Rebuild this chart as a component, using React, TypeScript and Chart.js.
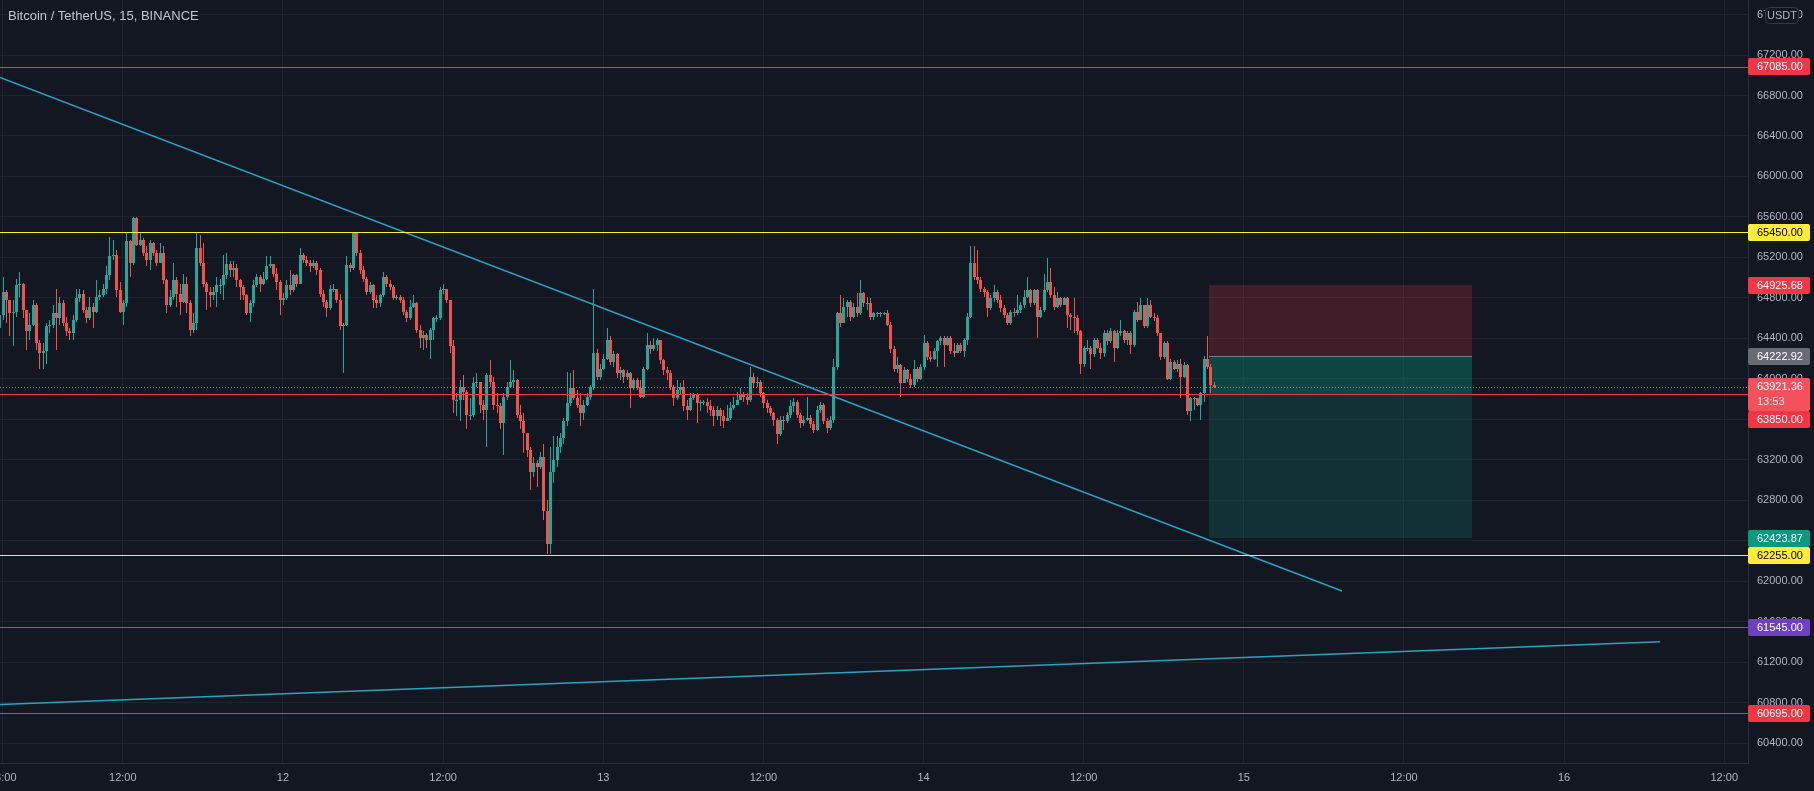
import React, { useEffect, useRef } from "react";
import { Chart, registerables } from "chart.js";

Chart.register(...registerables);

// ---------- data ----------
const FIRST_OPEN = 64960;
const BAR_START_HOUR = 2.5; // hours after 11 00:00
const BAR_HOURS = 0.25;

const closes = [
  64500,64630,64860,64780,64650,64660,64930,64940,64680,64470,
  64530,64730,64350,64250,64270,64520,64530,64650,64600,64750,
  64550,64470,64450,64580,64800,64840,64680,64600,64710,64660,
  64810,64830,64890,65030,65210,65220,64880,64660,64750,65360,
  65140,65590,65320,65370,65240,65170,65340,65240,65140,65240,
  64980,64730,64810,64980,64840,64760,64940,64750,64480,64550,
  65290,65140,64940,64860,64830,64860,64930,64930,65030,65130,
  65080,65090,64980,64910,64830,64650,64750,64930,65010,64940,
  64990,65110,65130,65040,64960,64780,64800,64930,64880,65030,
  64940,65220,
  65170,65140,65110,65140,65080,64840,64760,64700,64890,64890,
  64780,64520,64530,65120,65090,65440,65240,65080,64990,64860,
  64930,64780,64750,64830,65010,64940,64910,64800,64810,64780,
  64660,64600,64710,64750,64480,64400,64430,64380,64480,64600,
  64600,64880,64890,64780,64320,63790,63790,63920,63870,63640,
  63640,63960,63970,63740,63690,64040,63970,63740,63730,63560,
  63820,63920,63970,63990,63640,63580,63460,63300,63080,63170,
  63130,63230,62690,62370,63080,63200,63330,63410,63580,63760,
  63910,63810,63740,63660,63740,63820,63920,64250,
  64020,64100,64200,64380,64170,64240,64060,64090,64020,64060,
  63910,63990,63910,63820,64100,64330,64290,64330,64380,64190,
  64090,64060,63920,63810,63890,63920,63730,63690,63810,63840,
  63760,63770,63770,63730,63690,63630,63690,63630,63580,63610,
  63710,63740,63790,63840,63820,63790,64020,63960,63970,63860,
  63760,63710,63660,63590,63450,63590,63580,63640,63730,63770,
  63640,63560,63590,63610,63550,63490,63690,63740,63580,63510,
  63590,64120,64650,64550,64710,64760,64610,64710,64650,64850,
  64750,64750,64610,64650,64650,64650,64650,64530,64290,64100,
  64140,63960,64090,
  64000,63940,64100,64000,64120,64350,64220,64200,64270,64370,
  64400,64330,64400,64270,64250,64330,64270,64380,64610,65140,
  65010,64980,64890,64860,64700,64800,64860,64780,64700,64630,
  64550,64660,64650,64680,64730,64810,64880,64750,64880,64610,
  64680,64880,64960,64830,64710,64800,64730,64800,64630,64610,
  64600,64470,64150,64300,64300,64240,64380,64300,64250,64450,
  64370,64470,64300,64450,64470,64380,64450,64330,64660,64580,
  64730,64520,64730,64610,64600,64450,64220,64350,64000,64170,
  64100,64150,64020,64140,63680,63810,63810,63740,63860,64200,
  64120,63940,63921.36,
];

const highs = [
  65060,64680,65010,64880,64780,64780,64990,65060,64950,64680,
  64650,64780,64750,64380,64350,64550,64580,64730,64890,64810,
  64780,64610,64500,64630,64890,64890,64880,64710,64810,64750,
  64980,64880,64940,65110,65400,65370,65270,64960,64780,65440,
  65370,65600,65600,65450,65390,65310,65370,65350,65270,65340,
  65310,64990,64880,65140,65010,64940,65040,65010,64780,64650,
  65450,65420,65340,64960,64910,64910,65010,64990,65220,65240,
  65160,65160,65130,64990,64930,64840,64780,64980,65040,65030,
  65060,65210,65210,65130,65090,64980,64850,64980,65080,65040,
  65040,65290,
  65240,65210,65170,65170,65160,65090,64880,64780,64930,64940,
  64890,64840,64550,65210,65140,65450,65440,65270,65110,65010,
  64960,64940,64830,64840,65060,65030,64980,64930,64830,64830,
  64810,64680,64780,64830,64760,64530,64470,64450,64500,64610,
  64630,64910,64940,64890,64780,64380,63860,63990,64040,63890,
  63810,64020,64060,63970,63790,64060,64190,64020,63860,63760,
  63860,63970,64190,64090,64000,63740,63660,63460,63330,63230,
  63200,63280,63360,62800,63330,63430,63430,63460,63610,64070,
  64060,64090,63890,63860,63790,63860,63940,64890,
  64290,64150,64240,64500,64420,64270,64250,64120,64100,64090,
  64070,64010,64010,63990,64120,64450,64370,64400,64400,64380,
  64200,64120,64090,63940,63990,63960,63990,63790,63860,63860,
  63860,63790,63790,63810,63790,63730,63730,63710,63690,63740,
  63770,63820,63870,63910,63870,63860,64120,64060,64020,63990,
  63870,63790,63730,63670,63610,63630,63630,63670,63790,63810,
  63790,63660,63630,63820,63640,63580,63730,63770,63760,63610,
  63630,64200,64660,64830,64800,64780,64780,64750,64850,64980,
  64860,64810,64800,64660,64660,64660,64660,64680,64560,64320,
  64220,64150,64120,
  64100,64050,64190,64120,64150,64430,64370,64270,64300,64380,
  64420,64420,64420,64420,64350,64350,64350,64400,64650,65310,
  65310,65270,65010,64910,64880,64830,64930,64880,64830,64730,
  64650,64680,64700,64830,64760,64880,65010,64890,64890,64890,
  64710,65040,65190,65090,64910,64860,64810,64810,64810,64650,
  64800,64630,64480,64320,64380,64320,64400,64400,64350,64480,
  64480,64500,64480,64480,64580,64480,64470,64470,64680,64760,
  64800,64730,64800,64780,64650,64630,64450,64370,64370,64200,
  64190,64190,64200,64170,64150,63820,63820,63810,63870,64230,
  64420,64150,63970,
];

const lows = [
  64450,64380,64580,64550,64420,64320,64610,64810,64600,64280,
  64380,64520,64280,64100,64100,64150,64450,64500,64280,64530,
  64520,64420,64380,64380,64560,64760,64650,64550,64580,64500,
  64650,64780,64810,64840,64980,65170,64810,64650,64530,64710,
  65010,65120,65310,65310,65210,65110,65080,65210,65110,65140,
  64940,64650,64710,64780,64710,64630,64750,64650,64420,64450,
  64480,65110,64910,64680,64710,64780,64710,64840,64780,64990,
  65010,65010,64910,64780,64780,64630,64560,64710,64910,64860,
  64930,64980,65090,65010,64880,64630,64730,64780,64830,64860,
  64910,64940,
  65140,65110,65060,65090,65030,64810,64710,64610,64680,64860,
  64750,64480,64060,64520,65060,65080,65210,65040,64960,64830,
  64840,64700,64700,64710,64810,64910,64880,64780,64780,64750,
  64630,64560,64580,64700,64450,64300,64280,64300,64200,64380,
  64560,64580,64840,64750,64250,63660,63630,63580,63790,63500,
  63590,63620,63920,63660,63590,63330,63920,63690,63660,63500,
  63250,63790,63920,63920,63610,63500,63270,63230,62900,63030,
  62930,63110,62600,62270,62270,62970,63130,63270,63360,63530,
  63730,63790,63710,63530,63590,63730,63790,63890,
  63990,63990,64090,64190,64140,64120,64010,63990,63960,63990,
  63710,63890,63890,63810,63810,64090,64240,64270,64270,64150,
  64040,63990,63890,63730,63790,63840,63680,63590,63680,63790,
  63560,63680,63740,63660,63630,63530,63590,63530,63510,63580,
  63590,63690,63740,63790,63770,63740,63770,63920,63920,63820,
  63710,63660,63630,63530,63360,63430,63490,63560,63610,63670,
  63610,63510,63530,63580,63510,63460,63480,63660,63550,63460,
  63490,63560,64090,64510,64570,64610,64570,64600,64610,64630,
  64710,64680,64580,64580,64610,64610,64630,64520,64250,64070,
  64060,63820,63960,
  63970,63910,63920,63970,63990,64090,64190,64170,64190,64120,
  64330,64120,64320,64240,64220,64250,64250,64220,64330,64600,
  64980,64940,64860,64810,64610,64680,64760,64750,64660,64600,
  64530,64530,64610,64630,64650,64700,64800,64710,64730,64400,
  64600,64660,64860,64800,64680,64700,64710,64730,64500,64480,
  64450,64430,64050,64120,64270,64100,64220,64290,64200,64220,
  64330,64350,64170,64290,64420,64350,64330,64240,64310,64560,
  64580,64500,64500,64600,64570,64420,64190,64200,63990,63990,
  64090,64070,63810,64010,63640,63580,63690,63730,63590,63770,
  64100,63860,63910,
];

const xTickHours = [3, 12, 24, 36, 48, 60, 72, 84, 96, 108, 120, 132];
const xTickLabels = ["03:00", "12:00", "12", "12:00", "13", "12:00", "14", "12:00", "15", "12:00", "16", "12:00"];
const yTickPrices = [60400, 60800, 61200, 61600, 62000, 62400, 62800, 63200, 63600, 64000, 64400, 64800, 65200, 65600, 66000, 66400, 66800, 67200, 67600];

const X_MIN_HOUR = 2.795;
const X_MAX_HOUR = 133.78;
const Y_MIN_PRICE = 60202.6;
const Y_MAX_PRICE = 67743.6;

const levelPrices = [67085, 65450, 63850, 62255, 61545, 60695];
const levelKinds = ["red", "yellow", "red", "yellow", "purple", "red"];

const trendDownHours = [2.795, 103.36];
const trendDownPrices = [66978, 61903];
const trendUpHours = [2.795, 127.2];
const trendUpPrices = [60780, 61400];

const positionHours = [93.39, 113.1];
const stopPrice = 64925.68;
const entryPrice = 64222.92;
const targetPrice = 62423.87;
const highlightLowPrice = 63850;
const currentPrice = 63921.36;
const countdownText = "13:53";
const titleText = "Bitcoin / TetherUS, 15, BINANCE";
const currencyText = "USDT";

// ---------- styles ----------
const BG = "#131722";
const GRID = "#1f232e";
const AXIS_LINE = "#2a2e39";
const TEXT = "#b2b5be";
const UP = "#26a69a";
const DOWN = "#ef5350";
const TREND = "#2aa3c3";
const FONT = "'Liberation Sans', Arial, sans-serif";
const kindLine: Record<string, string> = { red: "#f23645", yellow: "#ffeb3b", purple: "#7e57c2" };
const kindBg: Record<string, string> = { red: "#f23645", yellow: "#ffeb3b", purple: "#6c3fc4" };
const kindFg: Record<string, string> = { red: "#ffffff", yellow: "#000000", purple: "#ffffff" };

function roundRect(ctx: CanvasRenderingContext2D, x: number, y: number, w: number, h: number, r: number) {
  ctx.beginPath();
  ctx.moveTo(x + r, y);
  ctx.lineTo(x + w - r, y);
  ctx.quadraticCurveTo(x + w, y, x + w, y + r);
  ctx.lineTo(x + w, y + h - r);
  ctx.quadraticCurveTo(x + w, y + h, x + w - r, y + h);
  ctx.lineTo(x + r, y + h);
  ctx.quadraticCurveTo(x, y + h, x, y + h - r);
  ctx.lineTo(x, y + r);
  ctx.quadraticCurveTo(x, y, x + r, y);
  ctx.closePath();
}

const tvPlugin = {
  id: "tvPlugin",
  beforeDraw(chart: any) {
    const ctx = chart.ctx as CanvasRenderingContext2D;
    ctx.save();
    ctx.fillStyle = BG;
    ctx.fillRect(0, 0, chart.width, chart.height);
    ctx.restore();
  },
  beforeDatasetsDraw(chart: any) {
    const ctx = chart.ctx as CanvasRenderingContext2D;
    const xs = chart.scales.x;
    const ys = chart.scales.y;
    const a = chart.chartArea;
    ctx.save();
    ctx.beginPath();
    ctx.rect(a.left, a.top, a.right - a.left, a.bottom - a.top);
    ctx.clip();

    // position tool
    const bx0 = Math.round(xs.getPixelForValue(positionHours[0]));
    const bx1 = Math.round(xs.getPixelForValue(positionHours[1]));
    const yStop = Math.round(ys.getPixelForValue(stopPrice));
    const yEntry = Math.round(ys.getPixelForValue(entryPrice));
    const yTarget = Math.round(ys.getPixelForValue(targetPrice));
    const yHi = Math.round(ys.getPixelForValue(highlightLowPrice));
    ctx.fillStyle = "rgba(242,54,69,0.2)";
    ctx.fillRect(bx0, yStop, bx1 - bx0, yEntry - yStop);
    ctx.fillStyle = "rgba(8,153,129,0.2)";
    ctx.fillRect(bx0, yEntry, bx1 - bx0, yTarget - yEntry);
    ctx.fillStyle = "rgba(8,153,129,0.2)";
    ctx.fillRect(bx0, yEntry, bx1 - bx0, yHi - yEntry);
    ctx.fillStyle = "#787b86";
    ctx.fillRect(bx0, yEntry, bx1 - bx0, 1);

    // candles
    let open = FIRST_OPEN;
    for (let i = 0; i < closes.length; i++) {
      const t = BAR_START_HOUR + BAR_HOURS * i;
      const x = Math.round(xs.getPixelForValue(t));
      const c = closes[i];
      const yO = ys.getPixelForValue(open);
      const yC = ys.getPixelForValue(c);
      const yH = Math.round(ys.getPixelForValue(highs[i]));
      const yL = Math.round(ys.getPixelForValue(lows[i]));
      const col = c >= open ? UP : DOWN;
      ctx.fillStyle = col;
      ctx.fillRect(x, yH, 1, Math.max(1, yL - yH));
      const top = Math.round(Math.min(yO, yC));
      const bot = Math.round(Math.max(yO, yC));
      ctx.fillRect(x - 1, top, 3, Math.max(1, bot - top));
      open = c;
    }
    ctx.restore();
  },
  afterDatasetsDraw(chart: any) {
    const ctx = chart.ctx as CanvasRenderingContext2D;
    const ys = chart.scales.y;
    const a = chart.chartArea;
    ctx.save();
    ctx.beginPath();
    ctx.rect(a.left, a.top, a.right - a.left, a.bottom - a.top);
    ctx.clip();
    levelPrices.forEach((p, i) => {
      const y = Math.round(ys.getPixelForValue(p));
      ctx.fillStyle = kindLine[levelKinds[i]];
      ctx.fillRect(a.left, y, a.right - a.left, 1);
    });
    const yc = Math.round(ys.getPixelForValue(currentPrice)) + 0.5;
    ctx.strokeStyle = "rgba(236,110,140,0.85)";
    ctx.lineWidth = 1;
    ctx.setLineDash([1, 2]);
    ctx.beginPath();
    ctx.moveTo(a.left, yc);
    ctx.lineTo(a.right, yc);
    ctx.stroke();
    ctx.setLineDash([]);
    ctx.restore();
  },
  afterDraw(chart: any) {
    const ctx = chart.ctx as CanvasRenderingContext2D;
    const ys = chart.scales.y;
    const a = chart.chartArea;
    const axisLeft = a.right;
    ctx.save();
    ctx.font = `11px ${FONT}`;
    ctx.textBaseline = "middle";
    ctx.textAlign = "left";

    type Lab = { y: number; h: number; bg: string; fg: string; lines: string[] };
    const labs: Lab[] = [];
    levelPrices.forEach((p, i) => {
      const k = levelKinds[i];
      labs.push({ y: ys.getPixelForValue(p), h: 17, bg: kindBg[k], fg: kindFg[k], lines: [p.toFixed(2)] });
    });
    labs.push({ y: ys.getPixelForValue(stopPrice), h: 17, bg: "#f23645", fg: "#fff", lines: [stopPrice.toFixed(2)] });
    labs.push({ y: ys.getPixelForValue(entryPrice), h: 17, bg: "#686b76", fg: "#fff", lines: [entryPrice.toFixed(2)] });
    labs.push({ y: ys.getPixelForValue(targetPrice), h: 17, bg: "#089981", fg: "#fff", lines: [targetPrice.toFixed(2)] });
    labs.push({ y: ys.getPixelForValue(currentPrice), h: 33, bg: "#f4515d", fg: "#fff", lines: [currentPrice.toFixed(2), countdownText] });
    labs.sort((p, q) => p.y - q.y);
    let prevBottom = -1e9;
    for (const l of labs) {
      let top = l.lines.length > 1 ? l.y - 8.5 : l.y - l.h / 2;
      if (top < prevBottom) top = prevBottom;
      prevBottom = top + l.h;
      ctx.fillStyle = l.bg;
      roundRect(ctx, axisLeft, Math.round(top), 62, l.h, 2);
      ctx.fill();
      ctx.fillStyle = l.fg;
      l.lines.forEach((s, j) => {
        ctx.globalAlpha = j === 0 ? 1 : 0.85;
        ctx.fillText(s, axisLeft + 9, Math.round(top) + 8.5 + j * 15);
      });
      ctx.globalAlpha = 1;
    }

    // currency box
    ctx.fillStyle = BG;
    roundRect(ctx, axisLeft + 17, 7, 34, 17, 4);
    ctx.fill();
    ctx.strokeStyle = "#363a45";
    ctx.lineWidth = 1;
    roundRect(ctx, axisLeft + 17.5, 7.5, 33, 16, 4);
    ctx.stroke();
    ctx.fillStyle = TEXT;
    ctx.textAlign = "center";
    ctx.fillText(currencyText, axisLeft + 34, 16);

    // title
    ctx.textAlign = "left";
    ctx.font = `13px ${FONT}`;
    ctx.fillStyle = "#c2c5cd";
    ctx.fillText(titleText, 8, 16.5);
    ctx.restore();
  },
};

export default function App() {
  const ref = useRef<HTMLCanvasElement | null>(null);
  useEffect(() => {
    document.body.style.margin = "0";
    document.body.style.background = BG;
    const canvas = ref.current;
    if (!canvas) return;
    const chart = new Chart(canvas, {
      type: "line",
      data: {
        datasets: [
          {
            label: "trendDown",
            data: trendDownHours.map((h, i) => ({ x: h, y: trendDownPrices[i] })),
            borderColor: TREND,
            borderWidth: 1.5,
            pointRadius: 0,
          },
          {
            label: "trendUp",
            data: trendUpHours.map((h, i) => ({ x: h, y: trendUpPrices[i] })),
            borderColor: TREND,
            borderWidth: 1.5,
            pointRadius: 0,
          },
        ],
      },
      options: {
        responsive: false,
        maintainAspectRatio: false,
        animation: false,
        layout: { padding: 0 },
        plugins: { legend: { display: false }, tooltip: { enabled: false }, title: { display: false } },
        scales: {
          x: {
            type: "linear",
            position: "bottom",
            min: X_MIN_HOUR,
            max: X_MAX_HOUR,
            grid: { color: GRID, drawTicks: false },
            border: { color: AXIS_LINE },
            ticks: {
              autoSkip: false,
              maxRotation: 0,
              padding: 8,
              color: TEXT,
              font: { family: FONT, size: 11 },
              callback: (v: any) => {
                const idx = xTickHours.indexOf(Number(v));
                return idx >= 0 ? xTickLabels[idx] : "";
              },
            },
            afterBuildTicks: (s: any) => {
              s.ticks = xTickHours.map((v) => ({ value: v }));
            },
            afterFit: (s: any) => {
              s.height = 28;
              s.paddingLeft = 0;
              s.paddingRight = 0;
            },
          },
          y: {
            type: "linear",
            position: "right",
            min: Y_MIN_PRICE,
            max: Y_MAX_PRICE,
            grid: { color: GRID, drawTicks: false },
            border: { color: AXIS_LINE },
            ticks: {
              padding: 9,
              color: TEXT,
              font: { family: FONT, size: 11 },
              callback: (v: any) => Number(v).toFixed(2),
            },
            afterBuildTicks: (s: any) => {
              s.ticks = yTickPrices.map((v) => ({ value: v }));
            },
            afterFit: (s: any) => {
              s.width = 66;
              s.paddingTop = 0;
              s.paddingBottom = 0;
            },
          },
        },
      } as any,
      plugins: [tvPlugin],
    });
    return () => chart.destroy();
  }, []);
  return <canvas ref={ref} width={1814} height={791} style={{ display: "block" }} />;
}
